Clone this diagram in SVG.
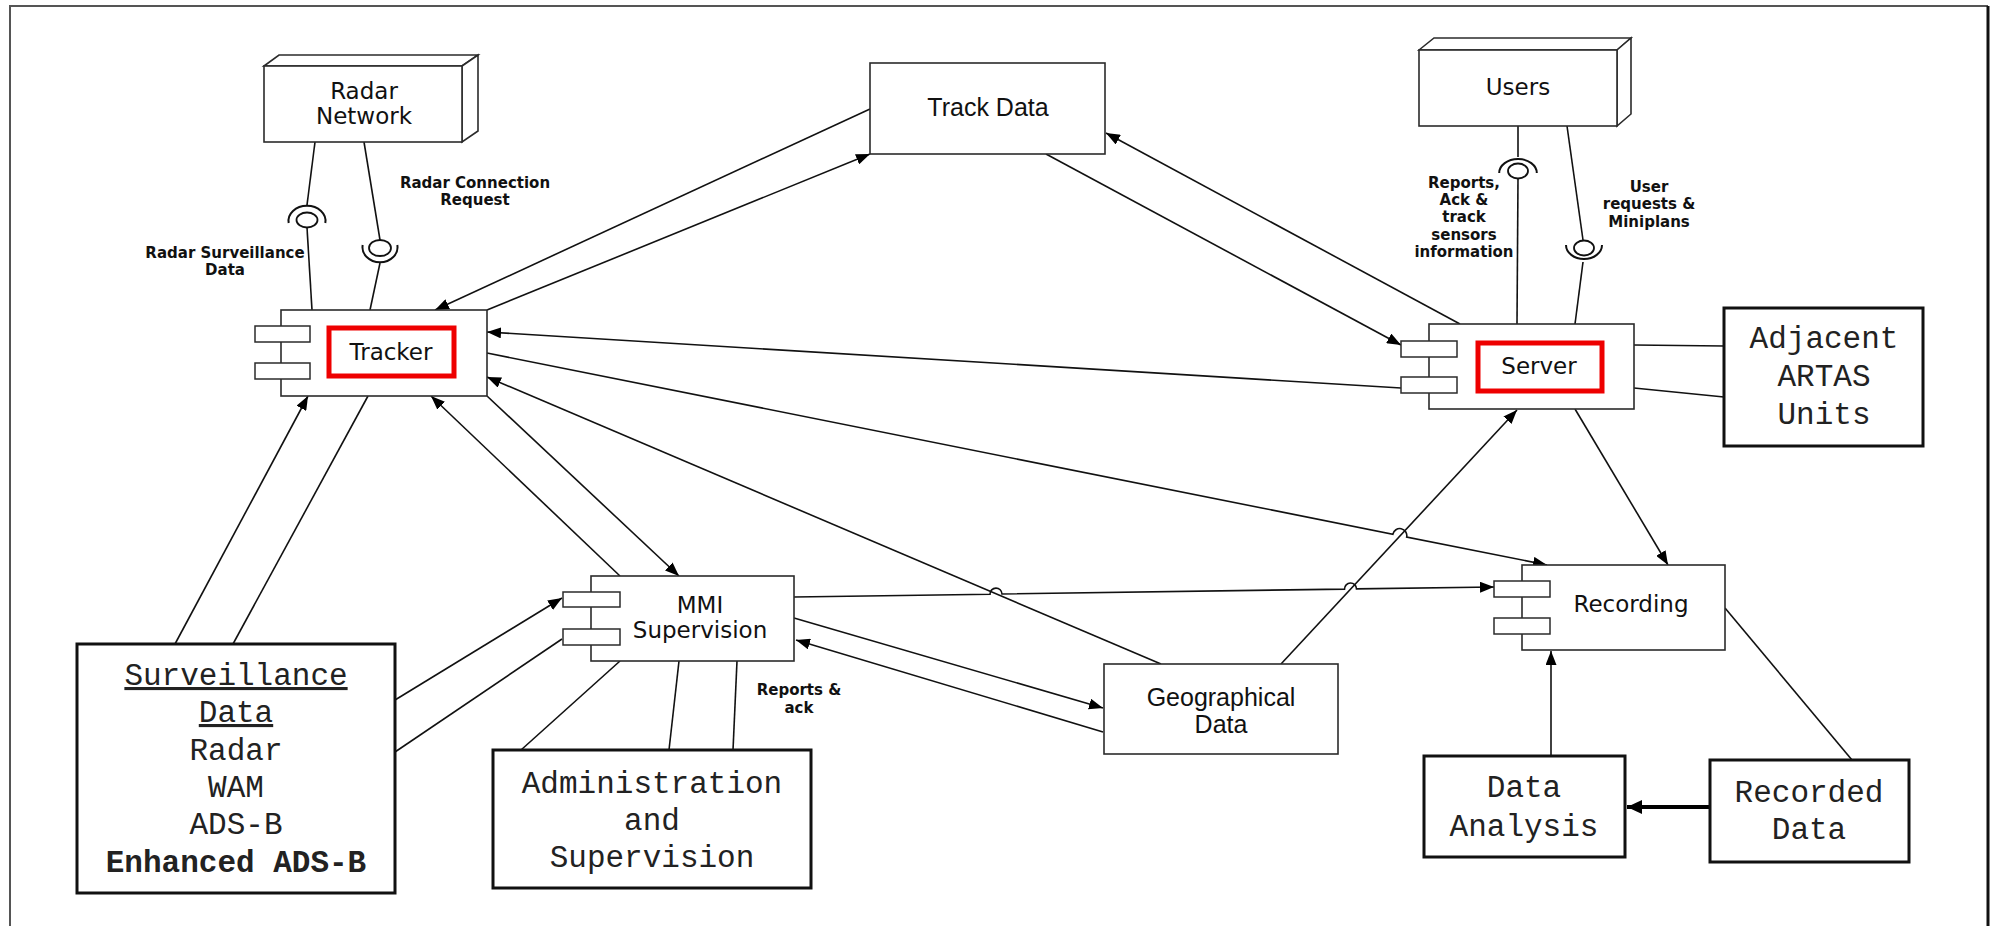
<svg xmlns="http://www.w3.org/2000/svg" width="1993" height="926" viewBox="0 0 1993 926">
  <style>
    .bg { fill: #ffffff; }
    .box { fill: #ffffff; stroke: #2b2b2b; stroke-width: 1.6; }
    .thick { fill: #ffffff; stroke: #111111; stroke-width: 3; }
    .port { fill: #ffffff; stroke: #2b2b2b; stroke-width: 1.5; }
    .hl { fill: none; stroke: #ee0000; stroke-width: 5; }
    .wire { fill: none; stroke: #111111; stroke-width: 1.6; }
    .arr { marker-end: url(#head); }
    .sock { fill: none; stroke: #111111; stroke-width: 2; }
    .ball { fill: #ffffff; stroke: #111111; stroke-width: 1.8; }
    .comp { font-family: "DejaVu Sans", sans-serif; font-size: 23px; fill: #111111; text-anchor: middle; }
    .sans { font-family: "Liberation Sans", Arial, sans-serif; font-size: 25px; fill: #111111; text-anchor: middle; }
    .lbl { font-family: "DejaVu Sans", sans-serif; font-weight: bold; font-size: 15px; fill: #111111; text-anchor: middle; }
    .mono { font-family: "Liberation Mono", "Courier New", monospace; font-size: 31px; fill: #222222; text-anchor: middle; }
  </style>
  <defs>
    <marker id="head" markerUnits="userSpaceOnUse" markerWidth="15" markerHeight="11" refX="14" refY="5.5" orient="auto">
      <path d="M0,0 L14,5.5 L0,11 z" fill="#000000"/>
    </marker>
    <marker id="bighead" markerUnits="userSpaceOnUse" markerWidth="16" markerHeight="14" refX="15" refY="7" orient="auto">
      <path d="M0,0 L15,7 L0,14 z" fill="#000000"/>
    </marker>
  </defs>

  <rect class="bg" x="0" y="0" width="1993" height="926"/>

  <!-- outer frame -->
  <g id="frame" fill="none">
    <path d="M10,926 L10,6 L1988,6" stroke="#555555" stroke-width="2"/>
    <path d="M1988,6 L1988,926" stroke="#111111" stroke-width="3"/>
  </g>

  <!-- connectors -->
  <g id="connectors">
    <!-- Track Data <-> Tracker -->
    <path class="wire arr" d="M870,109 L435,310"/>
    <path class="wire arr" d="M487,310 L870,154"/>
    <!-- Server <-> Track Data -->
    <path class="wire arr" d="M1460,324 L1106,133"/>
    <path class="wire arr" d="M1046,154 L1401,345"/>
    <!-- Server -> Tracker -->
    <path class="wire arr" d="M1401,388 L487,332"/>
    <!-- Tracker -> Recording (jumps over Geographical/Server link) -->
    <path class="wire arr" d="M487,353 L1392.9,534.2 A7,7 0 0,1 1406.7,537 L1547,565"/>
    <!-- Geographical Data -> Tracker -->
    <path class="wire arr" d="M1161,664 L487,377"/>
    <!-- Surveillance Data <-> Tracker -->
    <path class="wire arr" d="M175,644 L308,396"/>
    <path class="wire" d="M368,396 L233,644"/>
    <!-- MMI <-> Tracker -->
    <path class="wire arr" d="M620,576 L431,396"/>
    <path class="wire arr" d="M487,396 L679,576"/>
    <!-- Surveillance Data -> MMI -->
    <path class="wire arr" d="M395,700 L562,598"/>
    <path class="wire" d="M395,752 L562,639"/>
    <!-- MMI - Administration -->
    <path class="wire" d="M620,661 L521,750"/>
    <path class="wire" d="M679,661 L669,750"/>
    <path class="wire" d="M737,661 L733,750"/>
    <!-- MMI -> Recording (two jumps) -->
    <path class="wire arr" d="M794,597 L990,594.2 A6,6 0 0,1 1002,594 L1344.5,589.1 A6,6 0 0,1 1356.5,588.9 L1494,587"/>
    <!-- MMI <-> Geographical Data -->
    <path class="wire arr" d="M794,618 L1103,708"/>
    <path class="wire arr" d="M1103,732 L796,640"/>
    <!-- Geographical Data -> Server -->
    <path class="wire arr" d="M1281,664 L1517,410"/>
    <!-- Server -> Recording -->
    <path class="wire arr" d="M1575,409 L1668,565"/>
    <!-- Data Analysis -> Recording -->
    <path class="wire arr" d="M1551,756 L1551,651"/>
    <!-- Recorded Data -> Data Analysis -->
    <path d="M1710,807 L1627,807" fill="none" stroke="#000000" stroke-width="4" marker-end="url(#bighead)"/>
    <!-- Recording - Recorded Data -->
    <path class="wire" d="M1725,608 L1852,760"/>
    <!-- Server - Adjacent ARTAS Units -->
    <path class="wire" d="M1634,345 L1724,346"/>
    <path class="wire" d="M1634,388 L1724,397"/>

    <!-- Radar Network interfaces -->
    <path class="wire" d="M315,142 L307,205"/>
    <path class="sock" d="M288.7,223 A18.5,15 0 1,1 325.3,223"/>
    <ellipse class="ball" cx="307" cy="220" rx="10.5" ry="7.5"/>
    <path class="wire" d="M307,227.5 L312,310"/>

    <path class="wire" d="M364,142 L380,240"/>
    <path class="sock" d="M362.7,245 A17.5,15 0 1,0 397.3,245"/>
    <ellipse class="ball" cx="380" cy="248" rx="11" ry="8"/>
    <path class="wire" d="M380,263 L370,310"/>

    <!-- Users interfaces -->
    <path class="wire" d="M1518,126 L1518,157"/>
    <path class="sock" d="M1499.2,173 A18.8,14 0 1,1 1536.8,173"/>
    <ellipse class="ball" cx="1518" cy="171" rx="10" ry="7.5"/>
    <path class="wire" d="M1518,178.5 L1517,324"/>

    <path class="wire" d="M1567,126 L1583,240"/>
    <path class="sock" d="M1566,245 A18,14 0 1,0 1602,245"/>
    <ellipse class="ball" cx="1584" cy="248" rx="10" ry="7.5"/>
    <path class="wire" d="M1583,262 L1575,324"/>
  </g>

  <!-- interface labels -->
  <g id="labels">
    <text class="lbl" x="475" y="188">Radar Connection</text>
    <text class="lbl" x="475" y="205">Request</text>
    <text class="lbl" x="225" y="258">Radar Surveillance</text>
    <text class="lbl" x="225" y="275">Data</text>
    <text class="lbl" x="1464" y="188">Reports,</text>
    <text class="lbl" x="1464" y="205">Ack &amp;</text>
    <text class="lbl" x="1464" y="222">track</text>
    <text class="lbl" x="1464" y="240">sensors</text>
    <text class="lbl" x="1464" y="257">information</text>
    <text class="lbl" x="1649" y="192">User</text>
    <text class="lbl" x="1649" y="209">requests &amp;</text>
    <text class="lbl" x="1649" y="227">Miniplans</text>
    <text class="lbl" x="799" y="695">Reports &amp;</text>
    <text class="lbl" x="799" y="713">ack</text>
  </g>

  <!-- Radar Network node -->
  <g id="radar-network">
    <path class="box" d="M264,66 L279,55 L478,55 L462,66 Z"/>
    <path class="box" d="M462,66 L478,55 L478,131 L462,142 Z"/>
    <rect class="box" x="264" y="66" width="198" height="76"/>
    <text class="comp" x="364" y="99">Radar</text>
    <text class="comp" x="364" y="124">Network</text>
  </g>

  <!-- Users node -->
  <g id="users">
    <path class="box" d="M1419,50 L1434,38 L1631,38 L1617,50 Z"/>
    <path class="box" d="M1617,50 L1631,38 L1631,114 L1617,126 Z"/>
    <rect class="box" x="1419" y="50" width="198" height="76"/>
    <text class="comp" x="1518" y="95">Users</text>
  </g>

  <!-- Track Data -->
  <g id="track-data">
    <rect class="box" x="870" y="63" width="235" height="91"/>
    <text class="sans" x="988" y="116">Track Data</text>
  </g>

  <!-- Tracker component -->
  <g id="tracker">
    <rect class="box" x="281" y="310" width="206" height="86"/>
    <rect class="port" x="255" y="326" width="55" height="16"/>
    <rect class="port" x="255" y="363" width="55" height="16"/>
    <rect class="hl" x="329" y="328" width="125" height="48"/>
    <text class="comp" x="391" y="360">Tracker</text>
  </g>

  <!-- Server component -->
  <g id="server">
    <rect class="box" x="1429" y="324" width="205" height="85"/>
    <rect class="port" x="1401" y="341" width="56" height="16"/>
    <rect class="port" x="1401" y="377" width="56" height="16"/>
    <rect class="hl" x="1478" y="343" width="124" height="48"/>
    <text class="comp" x="1539" y="374">Server</text>
  </g>

  <!-- Adjacent ARTAS Units -->
  <g id="adjacent-artas">
    <rect class="thick" x="1724" y="308" width="199" height="138"/>
    <text class="mono" x="1824" y="348">Adjacent</text>
    <text class="mono" x="1824" y="386">ARTAS</text>
    <text class="mono" x="1824" y="424">Units</text>
  </g>

  <!-- MMI Supervision component -->
  <g id="mmi-supervision">
    <rect class="box" x="591" y="576" width="203" height="85"/>
    <rect class="port" x="563" y="592" width="57" height="15"/>
    <rect class="port" x="563" y="629" width="57" height="16"/>
    <text class="comp" x="700" y="613">MMI</text>
    <text class="comp" x="700" y="638">Supervision</text>
  </g>

  <!-- Geographical Data -->
  <g id="geographical-data">
    <rect class="box" x="1104" y="664" width="234" height="90"/>
    <text class="sans" x="1221" y="706" font-size="24">Geographical</text>
    <text class="sans" x="1221" y="733" font-size="24">Data</text>
  </g>

  <!-- Recording component -->
  <g id="recording">
    <rect class="box" x="1522" y="565" width="203" height="85"/>
    <rect class="port" x="1494" y="581" width="56" height="16"/>
    <rect class="port" x="1494" y="618" width="56" height="16"/>
    <text class="comp" x="1631" y="612">Recording</text>
  </g>

  <!-- Surveillance Data sources -->
  <g id="surveillance-data">
    <rect class="thick" x="77" y="644" width="318" height="249"/>
    <text class="mono" x="236" y="685" text-decoration="underline">Surveillance</text>
    <text class="mono" x="236" y="722" text-decoration="underline">Data</text>
    <text class="mono" x="236" y="760">Radar</text>
    <text class="mono" x="236" y="797">WAM</text>
    <text class="mono" x="236" y="834">ADS-B</text>
    <text class="mono" x="236" y="872" font-weight="bold" fill="#000000">Enhanced ADS-B</text>
  </g>

  <!-- Administration and Supervision -->
  <g id="administration">
    <rect class="thick" x="493" y="750" width="318" height="138"/>
    <text class="mono" x="652" y="793">Administration</text>
    <text class="mono" x="652" y="830">and</text>
    <text class="mono" x="652" y="867">Supervision</text>
  </g>

  <!-- Data Analysis -->
  <g id="data-analysis">
    <rect class="thick" x="1424" y="756" width="201" height="101"/>
    <text class="mono" x="1524" y="797">Data</text>
    <text class="mono" x="1524" y="836">Analysis</text>
  </g>

  <!-- Recorded Data -->
  <g id="recorded-data">
    <rect class="thick" x="1710" y="760" width="199" height="102"/>
    <text class="mono" x="1809" y="802">Recorded</text>
    <text class="mono" x="1809" y="839">Data</text>
  </g>
</svg>
